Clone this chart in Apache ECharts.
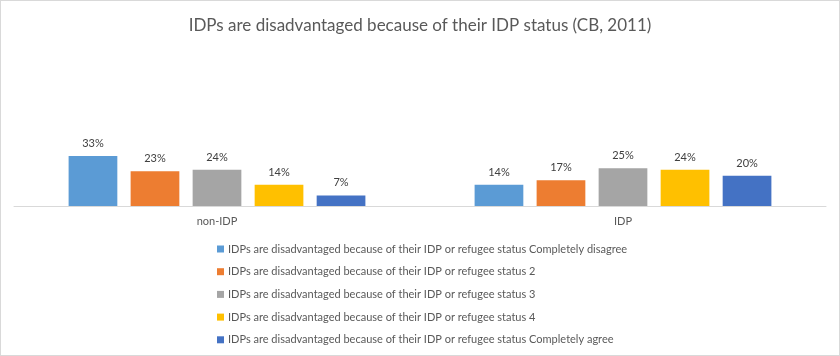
<!DOCTYPE html>
<html>
<head>
<meta charset="utf-8">
<script src="https://cdn.jsdelivr.net/npm/echarts@6/dist/echarts.min.js"></script>
<style>
html,body{margin:0;padding:0;background:#fff;}
#wrap{width:840px;height:356px;box-sizing:border-box;border:1px solid #d9d9d9;position:relative;}
#chart{position:absolute;left:-1px;top:-1px;width:840px;height:356px;}
</style>
</head>
<body>
<div id="wrap"><div id="chart"></div></div>
<script>
const title = 'IDPs are disadvantaged because of their IDP status (CB, 2011)';
const categories = ['non-IDP', 'IDP'];
const seriesNames = [
  'IDPs are disadvantaged because of their IDP or refugee status Completely disagree',
  'IDPs are disadvantaged because of their IDP or refugee status 2',
  'IDPs are disadvantaged because of their IDP or refugee status 3',
  'IDPs are disadvantaged because of their IDP or refugee status 4',
  'IDPs are disadvantaged because of their IDP or refugee status Completely agree'
];
const completelyDisagree = [33, 14];
const level2 = [23, 17];
const level3 = [24, 25];
const level4 = [14, 24];
const completelyAgree = [7, 20];
const seriesValues = [completelyDisagree, level2, level3, level4, completelyAgree];
const colors = ['#5B9BD5', '#ED7D31', '#A5A5A5', '#FFC000', '#4472C4'];

const font = 'Lato, sans-serif';
const chart = echarts.init(document.getElementById('chart'));
chart.setOption({
  animation: false,
  color: colors,
  title: {
    text: title,
    left: 'center',
    top: 12,
    textStyle: {fontFamily: font, fontSize: 17, fontWeight: 'normal', color: '#595959'}
  },
  legend: {
    orient: 'vertical',
    left: 217,
    top: 242,
    height: 130,
    padding: 0,
    itemWidth: 7,
    itemHeight: 7,
    itemGap: 8.7,
    icon: 'rect',
    selectedMode: false,
    textStyle: {fontFamily: font, fontSize: 11, color: '#595959', lineHeight: 14, padding: [0, 0, 0, -1]},
    data: seriesNames
  },
  grid: {left: 14, right: 14, top: 145.4, bottom: 150, containLabel: false},
  xAxis: {
    type: 'category',
    data: categories,
    axisLine: {lineStyle: {color: '#d9d9d9', width: 1}},
    axisTick: {show: false},
    axisLabel: {fontFamily: font, fontSize: 11, color: '#595959', margin: 10}
  },
  yAxis: {type: 'value', min: 0, max: 40, show: false, splitLine: {show: false}},
  series: seriesNames.map((n, i) => ({
    name: n,
    type: 'bar',
    data: seriesValues[i],
    barGap: '27.3%',
    barCategoryGap: '26.9%',
    label: {
      show: true,
      position: 'top',
      distance: 7,
      formatter: '{c}%',
      fontFamily: font,
      fontSize: 11,
      color: '#404040'
    }
  }))
});
</script>
</body>
</html>
